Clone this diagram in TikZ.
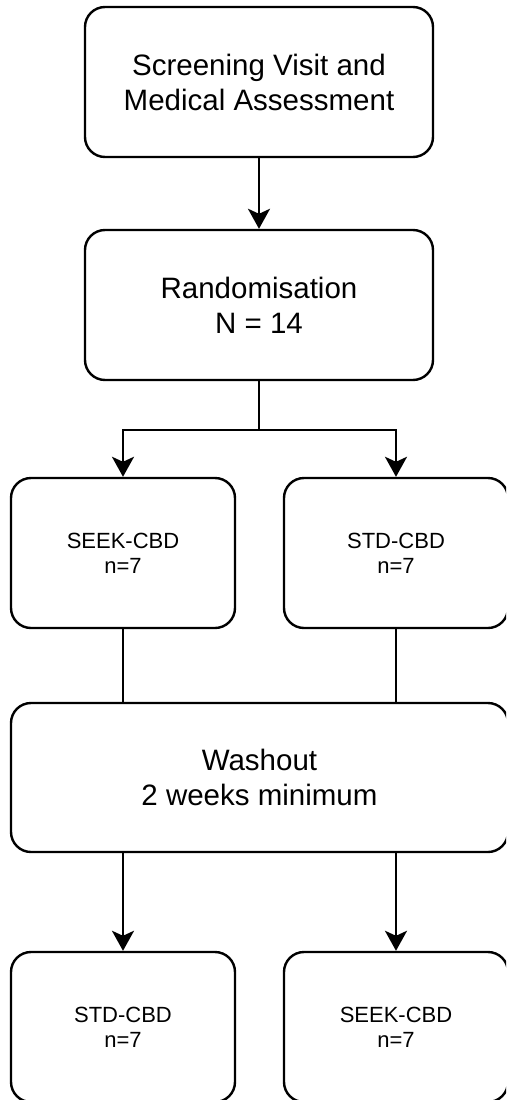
\documentclass[tikz,border=0pt]{standalone}
\usepackage{fontspec}
\setmainfont{Liberation Sans}
\usetikzlibrary{arrows.meta}
\begin{document}
\begin{tikzpicture}[x=1pt,y=-1pt,
  box/.style={draw=black, line width=2.4pt, rounded corners=20pt, fill=white, align=center, inner sep=0pt},
  bigtext/.style={font=\fontsize{29.5}{35}\selectfont},
  smalltext/.style={font=\fontsize{22}{25}\selectfont},
  arr/.style={line width=2.4pt, -{Stealth[length=20pt,width=22pt,inset=5pt]}},
  lin/.style={line width=2.4pt}]
\useasboundingbox (0,0) rectangle (506,1100);
\clip (0,0) rectangle (506,1100);
\node[box,bigtext,minimum width=348pt,minimum height=150pt] (screen) at (259,82) {Screening Visit and\\Medical Assessment};
\node[box,bigtext,minimum width=348pt,minimum height=150pt] (rand) at (259,305) {Randomisation\\N = 14};
\node[box,smalltext,minimum width=224pt,minimum height=150pt] (seek1) at (123,553) {SEEK-CBD\\n=7};
\node[box,smalltext,minimum width=224pt,minimum height=150pt] (std1) at (396,553) {STD-CBD\\n=7};
\node[box,bigtext,minimum width=497pt,minimum height=149pt] (wash) at (259.5,777.5) {Washout\\2 weeks minimum};
\node[box,smalltext,minimum width=224pt,minimum height=150pt] (std2) at (123,1027) {STD-CBD\\n=7};
\node[box,smalltext,minimum width=224pt,minimum height=150pt] (seek2) at (396,1027) {SEEK-CBD\\n=7};
\coordinate (split) at (259,430);
\draw[arr] (screen.south) -- (rand.north);
\draw[arr] (rand.south) -- (split) -| (seek1.north);
\draw[arr] (split) -| (std1.north);
\draw[lin] (seek1.south) -- (seek1.south |- wash.north);
\draw[lin] (std1.south) -- (std1.south |- wash.north);
\draw[arr] (wash.south -| std2.north) -- (std2.north);
\draw[arr] (wash.south -| seek2.north) -- (seek2.north);
\end{tikzpicture}
\end{document}
